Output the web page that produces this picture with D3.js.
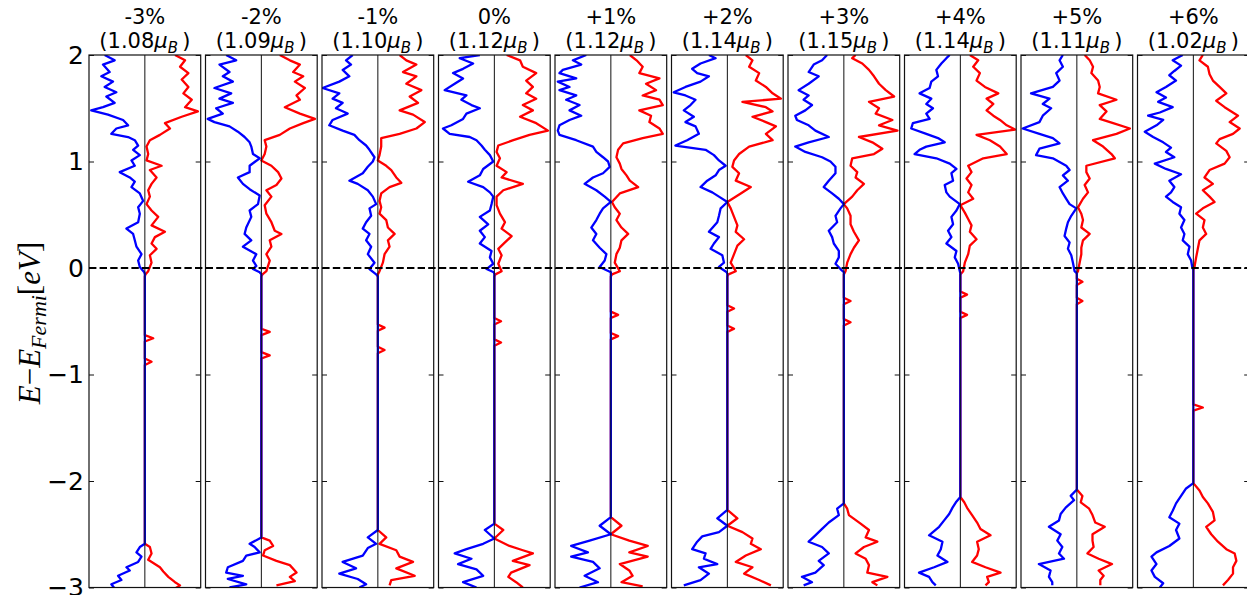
<!DOCTYPE html>
<html>
<head>
<meta charset="utf-8">
<script src="https://cdn.jsdelivr.net/npm/d3@7/dist/d3.min.js"></script>
<style>
  html, body { margin: 0; padding: 0; background: #fff; }
  svg { display: block; }
</style>
</head>
<body>
<div id="chart"></div>
<script>
// Spin-resolved DOS under strain: one narrow panel per strain value.
// Spin up (blue) drawn to the left of the centre line, spin down (red) to the right.
// Each curve is [E - E_Fermi (eV), DOS (arb. units, panel half-width = 1)].

const strains = ['-3%', '-2%', '-1%', '0%', '+1%', '+2%', '+3%', '+4%', '+5%', '+6%'];
const moments = ['1.08', '1.09', '1.10', '1.12', '1.12', '1.14', '1.15', '1.14', '1.11', '1.02'];
const yTicks = [2, 1, 0, -1, -2, -3];

const upM3 = [[2.00,0.72],[1.95,0.54],[1.91,0.75],[1.84,0.63],[1.80,0.78],[1.75,0.57],[1.70,0.72],[1.65,0.51],[1.61,0.69],[1.55,0.54],[1.51,0.75],[1.48,0.96],[1.44,0.66],[1.39,0.39],[1.34,0.30],[1.31,0.51],[1.26,0.60],[1.23,0.30],[1.20,0.18],[1.15,0.12],[1.11,0.21],[1.06,0.09],[1.01,0.24],[0.96,0.18],[0.90,0.45],[0.85,0.27],[0.81,0.18],[0.76,0.24],[0.70,0.09],[0.63,0.03],[0.57,0.12],[0.51,0.09],[0.43,0.12],[0.37,0.33],[0.32,0.21],[0.26,0.18],[0.20,0.15],[0.13,0.06],[0.07,0.12],[0.01,0.09],[-0.04,0.01],[-0.06,0],
  [-2.59,0],[-2.62,0.09],[-2.67,0.15],[-2.71,0.06],[-2.76,0.12],[-2.81,0.33],[-2.84,0.27],[-2.89,0.48],[-2.93,0.42],[-2.97,0.60],[-3.01,0.54]];
const dnM3 = [[2.00,0.54],[1.95,0.72],[1.89,0.63],[1.83,0.78],[1.77,0.66],[1.70,0.78],[1.64,0.69],[1.58,0.84],[1.51,0.72],[1.47,0.95],[1.42,0.66],[1.36,0.36],[1.31,0.45],[1.25,0.27],[1.20,0.09],[1.14,0.03],[1.07,0.06],[1.01,0.03],[0.96,0.30],[0.92,0.09],[0.85,0.21],[0.79,0.12],[0.73,0.06],[0.67,0.09],[0.60,0.03],[0.54,0.12],[0.48,0.24],[0.40,0.12],[0.34,0.36],[0.29,0.18],[0.23,0.12],[0.18,0.21],[0.12,0.09],[0.05,0.12],[-0.03,0.06],[-0.06,0.01],[-0.08,0],
  [-0.63,0],[-0.66,0.15],[-0.69,0],[-0.85,0],[-0.88,0.12],[-0.91,0],
  [-2.59,0],[-2.62,0.09],[-2.68,0.12],[-2.74,0.06],[-2.81,0.27],[-2.85,0.33],[-2.90,0.42],[-2.95,0.54],[-2.98,0.63],[-3.01,0.54]];

const upM2 = [[2.00,0.63],[1.95,0.45],[1.91,0.75],[1.84,0.57],[1.80,0.69],[1.75,0.51],[1.69,0.84],[1.64,0.54],[1.59,0.75],[1.55,0.51],[1.50,0.81],[1.45,0.69],[1.40,0.96],[1.37,0.84],[1.33,0.57],[1.28,0.42],[1.23,0.30],[1.18,0.21],[1.14,0.18],[1.07,0.15],[1.03,0.03],[0.96,0.21],[0.90,0.21],[0.85,0.42],[0.79,0.33],[0.74,0.21],[0.68,0.03],[0.60,0.06],[0.54,0.21],[0.48,0.18],[0.38,0.27],[0.32,0.30],[0.26,0.18],[0.20,0.33],[0.13,0.09],[0.07,0.15],[0.02,0.09],[-0.01,0.15],[-0.04,0.03],[-0.06,0],
  [-2.53,0],[-2.59,0.21],[-2.62,0.12],[-2.67,0.03],[-2.70,0.27],[-2.75,0.33],[-2.81,0.60],[-2.86,0.63],[-2.89,0.33],[-2.92,0.60],[-2.97,0.27],[-3.00,0.57]];
const dnM2 = [[2.00,0.33],[1.95,0.51],[1.91,0.69],[1.84,0.57],[1.80,0.75],[1.75,0.60],[1.69,0.78],[1.62,0.63],[1.58,0.69],[1.51,0.42],[1.45,0.69],[1.40,0.96],[1.36,0.75],[1.31,0.51],[1.25,0.33],[1.20,0.06],[1.14,0.09],[1.07,0.06],[1.01,0],[0.96,0.18],[0.90,0.30],[0.84,0.36],[0.78,0.27],[0.73,0.09],[0.67,0.18],[0.59,0.06],[0.51,0.09],[0.43,0.18],[0.35,0.24],[0.32,0.36],[0.26,0.15],[0.20,0.18],[0.13,0.09],[0.07,0.15],[-0.03,0.09],[-0.06,0.02],[-0.08,0],
  [-0.57,0],[-0.60,0.15],[-0.63,0],[-0.79,0],[-0.82,0.15],[-0.85,0],
  [-2.53,0],[-2.56,0.15],[-2.61,0.21],[-2.65,0.06],[-2.70,0.03],[-2.75,0.27],[-2.79,0.51],[-2.86,0.63],[-2.90,0.51],[-2.94,0.60],[-2.98,0.27]];

const upM1 = [[2.00,0.45],[1.95,0.57],[1.91,0.48],[1.86,0.63],[1.80,0.51],[1.75,0.69],[1.69,0.99],[1.64,0.69],[1.59,0.81],[1.55,0.63],[1.50,0.75],[1.45,0.54],[1.39,0.81],[1.34,0.87],[1.29,0.63],[1.25,0.42],[1.20,0.33],[1.15,0.21],[1.11,0.15],[1.04,0.06],[1.00,0.09],[0.95,0.18],[0.89,0.27],[0.82,0.51],[0.79,0.36],[0.73,0.18],[0.67,0.09],[0.60,0.03],[0.56,0.15],[0.49,0.12],[0.43,0.21],[0.37,0.27],[0.32,0.15],[0.26,0.21],[0.20,0.12],[0.13,0.18],[0.05,0.06],[-0.01,0.15],[-0.06,0.03],[-0.08,0],
  [-2.46,0],[-2.53,0.18],[-2.59,0.03],[-2.63,0.18],[-2.70,0.27],[-2.76,0.63],[-2.82,0.39],[-2.87,0.69],[-2.92,0.36],[-2.97,0.21],[-3.00,0.33]];
const dnM1 = [[2.00,0.39],[1.95,0.51],[1.91,0.69],[1.84,0.45],[1.80,0.69],[1.73,0.51],[1.67,0.78],[1.61,0.57],[1.55,0.72],[1.48,0.39],[1.44,0.63],[1.37,0.84],[1.31,0.69],[1.26,0.39],[1.22,0.06],[1.14,0.06],[1.06,0.03],[1.01,0],[0.96,0.15],[0.92,0.24],[0.85,0.33],[0.80,0.42],[0.76,0.21],[0.70,0.06],[0.63,0.03],[0.57,0.06],[0.51,0.03],[0.45,0.15],[0.38,0.18],[0.32,0.30],[0.26,0.18],[0.20,0.21],[0.13,0.12],[0.05,0.09],[-0.03,0.03],[-0.06,0],
  [-0.53,0],[-0.56,0.12],[-0.59,0],[-0.74,0],[-0.77,0.12],[-0.80,0],
  [-2.46,0],[-2.53,0.15],[-2.59,0.03],[-2.65,0.33],[-2.71,0.39],[-2.76,0.63],[-2.82,0.33],[-2.89,0.66],[-2.93,0.24],[-2.98,0.21]];

const up0 = [[2.00,0.26],[1.97,0.62],[1.92,0.38],[1.87,0.56],[1.83,0.74],[1.78,0.56],[1.73,0.71],[1.67,0.89],[1.62,0.50],[1.58,0.59],[1.53,0.41],[1.50,0.26],[1.45,0.50],[1.40,0.56],[1.34,0.77],[1.31,0.92],[1.26,0.80],[1.23,0.44],[1.20,0.32],[1.15,0.23],[1.11,0.17],[1.06,0.08],[1.00,0.02],[0.93,0.20],[0.87,0.26],[0.81,0.47],[0.76,0.20],[0.71,0.08],[0.67,0.02],[0.60,0.05],[0.54,0.08],[0.48,0.26],[0.41,0.11],[0.35,0.26],[0.29,0.17],[0.23,0.26],[0.16,0.05],[0.10,0.08],[0.04,0.02],[-0.01,0.14],[-0.04,0.01],[-0.06,0],
  [-2.40,0],[-2.46,0.17],[-2.54,0],[-2.59,0.20],[-2.64,0.50],[-2.68,0.71],[-2.73,0.41],[-2.78,0.65],[-2.83,0.32],[-2.89,0.20],[-2.95,0.56],[-3.00,0.32]];
const dn0 = [[2.00,0.22],[1.95,0.46],[1.89,0.51],[1.83,0.75],[1.76,0.57],[1.70,0.69],[1.64,0.57],[1.59,0.75],[1.53,0.51],[1.48,0.69],[1.42,0.46],[1.36,0.75],[1.29,0.96],[1.25,0.63],[1.20,0.34],[1.15,0.07],[1.09,0.04],[1.03,0.10],[0.96,0.04],[0.90,0.22],[0.85,0.13],[0.79,0.51],[0.73,0.16],[0.67,0.04],[0.59,0.04],[0.51,0.10],[0.43,0.19],[0.37,0.13],[0.30,0.31],[0.24,0.19],[0.18,0.07],[0.12,0.13],[0.04,0.07],[-0.03,0.13],[-0.06,0.02],[-0.08,0],
  [-0.47,0],[-0.50,0.12],[-0.53,0],[-0.67,0],[-0.70,0.12],[-0.73,0],
  [-2.40,0],[-2.46,0.16],[-2.54,0],[-2.61,0.27],[-2.65,0.51],[-2.68,0.69],[-2.75,0.33],[-2.79,0.63],[-2.86,0.30],[-2.90,0.25],[-2.95,0.39],[-3.00,0.51]];

const upP1 = [[2.00,0.44],[1.95,0.68],[1.91,0.53],[1.86,0.86],[1.83,0.92],[1.78,0.62],[1.75,0.95],[1.70,0.74],[1.67,0.92],[1.62,0.62],[1.58,0.80],[1.53,0.56],[1.48,0.74],[1.43,0.53],[1.39,0.74],[1.34,0.92],[1.29,0.95],[1.25,0.92],[1.20,0.62],[1.14,0.32],[1.09,0.26],[1.04,0.14],[1.00,0.05],[0.95,0.02],[0.89,0.14],[0.85,0.32],[0.79,0.47],[0.73,0.26],[0.67,0.11],[0.62,0],[0.56,0.14],[0.51,0.20],[0.45,0.26],[0.38,0.35],[0.32,0.26],[0.26,0.32],[0.19,0.20],[0.13,0.08],[0.07,0.11],[0.01,0.20],[-0.04,0],
  [-2.34,0],[-2.42,0.20],[-2.50,0],[-2.56,0.38],[-2.61,0.71],[-2.67,0.41],[-2.71,0.71],[-2.76,0.32],[-2.82,0.20],[-2.89,0.47],[-2.95,0.23],[-3.00,0.56]];
const dnP1 = [[2.00,0.34],[1.95,0.46],[1.89,0.57],[1.83,0.51],[1.78,0.87],[1.73,0.63],[1.67,0.81],[1.62,0.57],[1.58,0.87],[1.53,0.93],[1.48,0.51],[1.43,0.72],[1.37,0.69],[1.31,0.87],[1.26,0.93],[1.22,0.57],[1.17,0.22],[1.11,0.13],[1.04,0.10],[0.98,0.16],[0.93,0.19],[0.87,0.28],[0.82,0.34],[0.76,0.49],[0.70,0.16],[0.62,0.02],[0.57,0.07],[0.51,0.16],[0.45,0.10],[0.38,0.19],[0.32,0.31],[0.26,0.19],[0.19,0.16],[0.13,0.10],[0.05,0.07],[-0.03,0.16],[-0.06,0.02],[-0.08,0],
  [-0.41,0],[-0.44,0.13],[-0.47,0],[-0.61,0],[-0.64,0.13],[-0.67,0],
  [-2.34,0],[-2.42,0.19],[-2.50,0],[-2.56,0.33],[-2.61,0.66],[-2.67,0.33],[-2.71,0.66],[-2.78,0.16],[-2.84,0.33],[-2.89,0.39],[-2.95,0.19],[-2.99,0.57]];

const upP2 = [[2.00,0.33],[1.97,0.21],[1.92,0.48],[1.87,0.63],[1.83,0.54],[1.80,0.33],[1.75,0.48],[1.70,0.75],[1.65,0.96],[1.62,0.75],[1.58,0.57],[1.53,0.66],[1.48,0.78],[1.42,0.60],[1.37,0.75],[1.33,0.57],[1.26,0.51],[1.20,0.72],[1.15,0.93],[1.11,0.39],[1.06,0.24],[1.01,0.15],[0.96,0.03],[0.92,0.15],[0.87,0.21],[0.82,0.36],[0.76,0.48],[0.71,0.27],[0.67,0.15],[0.62,0],[0.56,0.12],[0.49,0.15],[0.43,0.18],[0.34,0.33],[0.29,0.15],[0.23,0.24],[0.18,0.30],[0.12,0.09],[0.05,0.06],[0.01,0.15],[-0.04,0.01],[-0.06,0],
  [-2.27,0],[-2.35,0.18],[-2.42,0],[-2.48,0.15],[-2.52,0.45],[-2.57,0.54],[-2.64,0.63],[-2.68,0.39],[-2.73,0.42],[-2.78,0.18],[-2.81,0.51],[-2.87,0.33],[-2.93,0.48],[-2.98,0.78]];
const dnP2 = [[2.00,0.33],[1.95,0.45],[1.89,0.39],[1.83,0.57],[1.76,0.51],[1.70,0.69],[1.64,0.81],[1.59,0.96],[1.56,0.27],[1.51,0.69],[1.47,0.81],[1.42,0.45],[1.37,0.69],[1.33,0.87],[1.26,0.69],[1.20,0.81],[1.14,0.39],[1.07,0.21],[1.01,0.12],[0.95,0.09],[0.89,0.21],[0.82,0.15],[0.76,0.42],[0.70,0.24],[0.62,0],[0.56,0.06],[0.48,0.12],[0.40,0.18],[0.34,0.15],[0.27,0.30],[0.21,0.18],[0.13,0.12],[0.05,0.06],[-0.03,0.15],[-0.06,0.02],[-0.08,0],
  [-0.35,0],[-0.38,0.12],[-0.41,0],[-0.54,0],[-0.57,0.12],[-0.60,0],
  [-2.27,0],[-2.35,0.18],[-2.42,0],[-2.48,0.27],[-2.54,0.45],[-2.59,0.42],[-2.64,0.60],[-2.70,0.33],[-2.76,0.15],[-2.81,0.45],[-2.87,0.30],[-2.93,0.57],[-2.98,0.78]];

const upP3 = [[2.00,0.30],[1.95,0.39],[1.91,0.54],[1.84,0.63],[1.80,0.45],[1.73,0.63],[1.67,0.81],[1.62,0.63],[1.58,0.72],[1.53,0.57],[1.48,0.69],[1.43,0.87],[1.39,0.84],[1.34,0.63],[1.29,0.51],[1.23,0.27],[1.18,0.63],[1.14,0.87],[1.09,0.69],[1.04,0.39],[1.00,0.24],[0.95,0.15],[0.89,0.15],[0.82,0.27],[0.76,0.36],[0.70,0.21],[0.65,0.09],[0.60,0],[0.56,0.06],[0.49,0.15],[0.43,0.12],[0.35,0.27],[0.29,0.21],[0.23,0.18],[0.16,0.09],[0.10,0.09],[0.04,0.15],[-0.01,0.06],[-0.04,0],
  [-2.21,0],[-2.26,0.12],[-2.32,0.09],[-2.39,0.27],[-2.45,0.39],[-2.51,0.51],[-2.57,0.63],[-2.62,0.39],[-2.68,0.27],[-2.75,0.45],[-2.79,0.36],[-2.86,0.51],[-2.90,0.75],[-2.95,0.57],[-2.98,0.72]];
const dnP3 = [[2.00,0.21],[1.97,0.15],[1.92,0.33],[1.86,0.45],[1.80,0.54],[1.73,0.63],[1.67,0.75],[1.61,0.90],[1.56,0.45],[1.50,0.63],[1.45,0.57],[1.39,0.87],[1.34,0.63],[1.29,0.96],[1.23,0.27],[1.18,0.51],[1.12,0.69],[1.07,0.54],[1.03,0.15],[0.96,0.12],[0.90,0.24],[0.85,0.21],[0.79,0.36],[0.73,0.24],[0.67,0.15],[0.60,0],[0.56,0.06],[0.49,0.12],[0.41,0.12],[0.34,0.18],[0.26,0.27],[0.19,0.18],[0.13,0.12],[0.05,0.06],[-0.03,0.03],[-0.06,0],
  [-0.28,0],[-0.31,0.12],[-0.34,0],[-0.48,0],[-0.51,0.12],[-0.54,0],
  [-2.21,0],[-2.26,0.06],[-2.32,0.09],[-2.40,0.30],[-2.46,0.45],[-2.53,0.39],[-2.57,0.60],[-2.62,0.36],[-2.68,0.21],[-2.73,0.39],[-2.79,0.45],[-2.86,0.42],[-2.90,0.78],[-2.95,0.51],[-2.98,0.60]];

const upP4 = [[2.00,0.19],[1.97,0.25],[1.92,0.34],[1.86,0.43],[1.80,0.40],[1.75,0.52],[1.69,0.55],[1.64,0.73],[1.59,0.52],[1.54,0.61],[1.50,0.49],[1.45,0.61],[1.40,0.55],[1.36,0.85],[1.31,0.88],[1.26,0.61],[1.22,0.40],[1.18,0.28],[1.14,0.61],[1.11,0.73],[1.07,0.82],[1.03,0.43],[0.98,0.19],[0.93,0.07],[0.89,0.16],[0.82,0.13],[0.78,0.28],[0.71,0.25],[0.67,0.19],[0.60,0.01],[0.54,0.07],[0.48,0.16],[0.41,0.13],[0.35,0.22],[0.29,0.16],[0.23,0.25],[0.16,0.07],[0.10,0.10],[0.04,0.04],[-0.03,0.01],[-0.05,0],
  [-2.15,0],[-2.20,0.08],[-2.25,0.14],[-2.31,0.20],[-2.37,0.29],[-2.43,0.38],[-2.51,0.56],[-2.57,0.32],[-2.64,0.35],[-2.70,0.41],[-2.76,0.23],[-2.81,0.47],[-2.86,0.74],[-2.90,0.56],[-2.95,0.50],[-2.98,0.44]];
const dnP4 = [[2.00,0.17],[1.95,0.32],[1.89,0.23],[1.83,0.35],[1.76,0.29],[1.70,0.44],[1.64,0.68],[1.59,0.47],[1.54,0.59],[1.48,0.47],[1.43,0.59],[1.39,0.71],[1.34,0.83],[1.30,0.98],[1.25,0.29],[1.20,0.53],[1.14,0.71],[1.07,0.83],[1.03,0.41],[0.96,0.14],[0.90,0.20],[0.84,0.11],[0.78,0.20],[0.71,0.14],[0.65,0.23],[0.59,0],[0.52,0.08],[0.46,0.14],[0.40,0.20],[0.34,0.17],[0.27,0.29],[0.21,0.17],[0.13,0.14],[0.05,0.08],[-0.03,0.05],[-0.06,0],
  [-0.22,0],[-0.25,0.12],[-0.28,0],[-0.41,0],[-0.44,0.12],[-0.47,0],
  [-2.15,0],[-2.20,0.07],[-2.26,0.13],[-2.32,0.21],[-2.39,0.30],[-2.45,0.36],[-2.51,0.54],[-2.57,0.30],[-2.64,0.33],[-2.70,0.30],[-2.76,0.21],[-2.81,0.45],[-2.86,0.72],[-2.90,0.48],[-2.95,0.51],[-2.98,0.45]];

const upP5 = [[2.00,0.25],[1.95,0.31],[1.89,0.25],[1.83,0.37],[1.76,0.31],[1.70,0.43],[1.64,0.82],[1.59,0.49],[1.54,0.61],[1.50,0.46],[1.43,0.61],[1.37,0.67],[1.31,0.97],[1.26,0.67],[1.22,0.43],[1.17,0.31],[1.12,0.67],[1.06,0.73],[1.03,0.43],[0.96,0.19],[0.92,0.13],[0.87,0.25],[0.82,0.16],[0.76,0.31],[0.70,0.25],[0.65,0.19],[0.60,0.13],[0.56,0.01],[0.49,0.10],[0.43,0.16],[0.37,0.19],[0.30,0.22],[0.24,0.13],[0.18,0.16],[0.12,0.10],[0.05,0.07],[-0.03,0.04],[-0.05,0],
  [-2.08,0],[-2.14,0.11],[-2.18,0.05],[-2.25,0.20],[-2.31,0.29],[-2.37,0.32],[-2.43,0.50],[-2.50,0.29],[-2.56,0.35],[-2.62,0.26],[-2.68,0.32],[-2.73,0.23],[-2.78,0.68],[-2.84,0.47],[-2.90,0.50],[-2.95,0.44],[-2.98,0.44]];
const dnP5 = [[2.00,0.14],[1.95,0.23],[1.89,0.29],[1.83,0.26],[1.76,0.38],[1.70,0.41],[1.64,0.38],[1.58,0.71],[1.53,0.41],[1.47,0.53],[1.40,0.41],[1.36,0.65],[1.31,0.95],[1.26,0.71],[1.20,0.29],[1.14,0.47],[1.07,0.62],[1.03,0.68],[0.96,0.17],[0.90,0.17],[0.84,0.23],[0.78,0.14],[0.71,0.20],[0.65,0.11],[0.57,0.02],[0.51,0.08],[0.45,0.11],[0.38,0.08],[0.32,0.23],[0.26,0.11],[0.19,0.08],[0.13,0.08],[0.05,0.05],[-0.03,0.02],[-0.05,0],
  [-0.10,0],[-0.13,0.10],[-0.16,0],[-0.28,0],[-0.31,0.10],[-0.34,0],
  [-2.08,0],[-2.14,0.10],[-2.20,0.07],[-2.26,0.22],[-2.32,0.28],[-2.39,0.33],[-2.43,0.50],[-2.50,0.28],[-2.56,0.28],[-2.62,0.30],[-2.68,0.19],[-2.73,0.39],[-2.78,0.63],[-2.84,0.39],[-2.89,0.48],[-2.93,0.42],[-2.98,0.42]];

const upP6 = [[2.00,0.19],[1.95,0.37],[1.90,0.22],[1.85,0.34],[1.81,0.43],[1.76,0.31],[1.70,0.49],[1.65,0.66],[1.60,0.49],[1.56,0.63],[1.51,0.37],[1.46,0.60],[1.43,0.81],[1.39,0.54],[1.34,0.66],[1.28,0.87],[1.23,0.72],[1.18,0.54],[1.13,0.40],[1.09,0.49],[1.04,0.34],[0.98,0.69],[0.93,0.49],[0.88,0.22],[0.82,0.43],[0.76,0.34],[0.71,0.40],[0.67,0.49],[0.62,0.37],[0.57,0.22],[0.51,0.25],[0.45,0.16],[0.38,0.22],[0.32,0.16],[0.26,0.19],[0.20,0.07],[0.13,0.10],[0.07,0.04],[0.01,0.02],[-0.02,0],
  [-2.02,0],[-2.07,0.13],[-2.14,0.22],[-2.21,0.31],[-2.28,0.37],[-2.34,0.43],[-2.40,0.25],[-2.46,0.31],[-2.54,0.25],[-2.61,0.43],[-2.67,0.66],[-2.71,0.75],[-2.78,0.66],[-2.84,0.75],[-2.90,0.69],[-2.96,0.54],[-3.00,0.60]];
const dnP6 = [[2.00,0.17],[1.95,0.11],[1.89,0.26],[1.82,0.29],[1.76,0.35],[1.70,0.47],[1.64,0.59],[1.57,0.41],[1.51,0.56],[1.43,0.80],[1.37,0.65],[1.31,0.83],[1.26,0.71],[1.21,0.47],[1.17,0.41],[1.10,0.59],[1.04,0.65],[0.98,0.56],[0.92,0.29],[0.85,0.20],[0.79,0.35],[0.73,0.17],[0.67,0.29],[0.62,0.38],[0.56,0.17],[0.51,0.05],[0.45,0.20],[0.38,0.17],[0.32,0.23],[0.26,0.11],[0.18,0.08],[0.10,0.05],[0.01,0.02],[-0.02,0],
  [-1.28,0],[-1.31,0.17],[-1.34,0],
  [-2.02,0],[-2.09,0.11],[-2.15,0.17],[-2.21,0.26],[-2.29,0.35],[-2.37,0.38],[-2.43,0.23],[-2.50,0.32],[-2.57,0.44],[-2.64,0.59],[-2.68,0.74],[-2.75,0.77],[-2.81,0.71],[-2.87,0.71],[-2.93,0.62],[-2.98,0.53]];

const spinUp = [upM3, upM2, upM1, up0, upP1, upP2, upP3, upP4, upP5, upP6];
const spinDown = [dnM3, dnM2, dnM1, dn0, dnP1, dnP2, dnP3, dnP4, dnP5, dnP6];

const W = 1247, H = 595;
const firstLeft = 89, step = 116.5, panelW = 111.7;
const plotTop = 55, plotBottom = 587.5;

const svg = d3.select('#chart').append('svg')
    .attr('width', W)
    .attr('height', H)
    .attr('viewBox', [0, 0, W, H]);

const y = d3.scaleLinear().domain([-3, 2]).range([plotBottom, plotTop]);

const line = d3.line();

strains.forEach((label, i) => {
    const left = firstLeft + i * step;
    const x = d3.scaleLinear().domain([-1, 1]).range([left, left + panelW]);
    const g = svg.append('g').attr('class', 'panel');

    const clipId = 'clip' + i;
    svg.append('clipPath').attr('id', clipId)
        .append('rect')
        .attr('x', left).attr('y', plotTop)
        .attr('width', panelW).attr('height', plotBottom - plotTop);

    const curves = g.append('g').attr('clip-path', `url(#${clipId})`);

    curves.append('path')
        .attr('d', line(spinDown[i].map((d) => [x(d[1]), y(d[0])])))
        .attr('fill', 'none')
        .attr('stroke', '#ff0000')
        .attr('stroke-width', 2.3)
        .attr('stroke-linejoin', 'round');

    curves.append('path')
        .attr('d', line(spinUp[i].map((d) => [x(-d[1]), y(d[0])])))
        .attr('fill', 'none')
        .attr('stroke', '#0000ff')
        .attr('stroke-width', 2.3)
        .attr('stroke-linejoin', 'round');

    // zero-DOS centre line
    g.append('line')
        .attr('x1', x(0)).attr('x2', x(0))
        .attr('y1', plotTop).attr('y2', plotBottom)
        .attr('stroke', '#111')
        .attr('stroke-width', 1);

    // inward ticks on both sides, labels only on the first panel
    const leftAxis = d3.axisLeft(y).tickValues(yTicks).tickSizeInner(-5).tickSizeOuter(0).tickPadding(5)
        .tickFormat(i === 0 ? d3.format('d') : '');
    const la = g.append('g').attr('transform', `translate(${left},0)`).call(leftAxis);
    la.select('.domain').remove();
    la.selectAll('.tick line').attr('stroke', '#111').attr('stroke-width', 1);
    la.selectAll('.tick text')
        .attr('font-family', 'DejaVu Sans, sans-serif')
        .attr('font-size', 25)
        .attr('fill', '#000');

    const rightAxis = d3.axisRight(y).tickValues(yTicks).tickSizeInner(-5).tickSizeOuter(0).tickFormat('');
    const ra = g.append('g').attr('transform', `translate(${left + panelW},0)`).call(rightAxis);
    ra.select('.domain').remove();
    ra.selectAll('.tick line').attr('stroke', '#111').attr('stroke-width', 1);

    g.append('rect')
        .attr('x', left).attr('y', plotTop)
        .attr('width', panelW).attr('height', plotBottom - plotTop)
        .attr('fill', 'none')
        .attr('stroke', '#111')
        .attr('stroke-width', 1.2);

    // two-line title: strain and magnetic moment
    const cx = x(0);
    svg.append('text')
        .attr('x', cx).attr('y', 24)
        .attr('text-anchor', 'middle')
        .attr('font-family', 'DejaVu Sans, sans-serif')
        .attr('font-size', 21)
        .text(label);

    const t2 = svg.append('text')
        .attr('x', cx).attr('y', 48)
        .attr('text-anchor', 'middle')
        .attr('font-family', 'DejaVu Sans, sans-serif')
        .attr('font-size', 21);
    t2.append('tspan').text('(' + moments[i]);
    t2.append('tspan').attr('font-style', 'italic').text('\u03bc');
    t2.append('tspan').attr('font-style', 'italic').attr('font-size', 15).attr('dy', 5).text('B');
    t2.append('tspan').attr('dy', -5).text('\u2009)');
});

// Fermi level
svg.append('line')
    .attr('x1', firstLeft).attr('x2', W)
    .attr('y1', y(0)).attr('y2', y(0))
    .attr('stroke', '#000')
    .attr('stroke-width', 2)
    .attr('stroke-dasharray', '7.4,3.2');

// y-axis label
const yl = svg.append('text')
    .attr('transform', 'translate(40,323) rotate(-90)')
    .attr('text-anchor', 'middle')
    .attr('font-family', 'Liberation Serif, serif')
    .attr('font-size', 31);
yl.append('tspan').attr('font-style', 'italic').text('E');
yl.append('tspan').text('\u2212');
yl.append('tspan').attr('font-style', 'italic').text('E');
yl.append('tspan').attr('font-style', 'italic').attr('font-size', 22).attr('dy', 6).text('Fermi');
yl.append('tspan').attr('dy', -6).text('[');
yl.append('tspan').attr('font-style', 'italic').text('eV');
yl.append('tspan').text(']');
</script>
</body>
</html>
